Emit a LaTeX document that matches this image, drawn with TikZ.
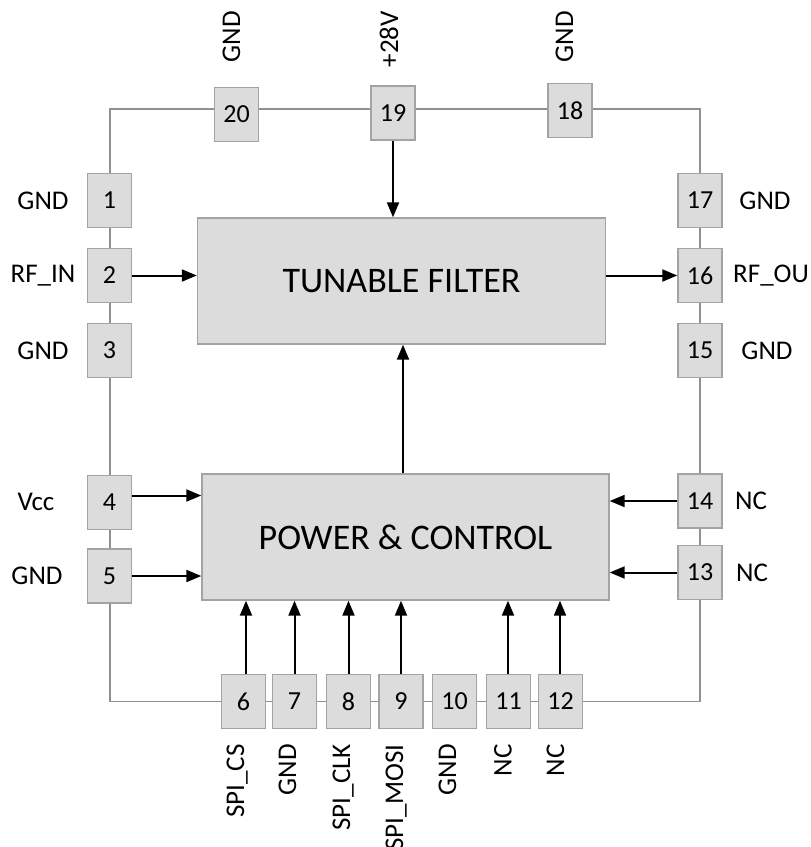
\documentclass[tikz,border=0pt]{standalone}
\usepackage{fontspec}
\setmainfont{Carlito}
\usetikzlibrary{arrows.meta}
\definecolor{boxfill}{HTML}{DCDCDC}
\definecolor{boxline}{HTML}{A3A3A3}
\definecolor{frameline}{HTML}{909090}
\begin{document}
\begin{tikzpicture}[x=1pt,y=-1pt,
  pinbox/.style={draw=boxline, line width=1.4pt, fill=boxfill, minimum width=44pt, minimum height=54pt, inner sep=0pt, font=\fontsize{26}{30}\selectfont},
  block/.style={draw=boxline, line width=1.4pt, fill=boxfill, inner sep=0pt, font=\fontsize{36}{42}\selectfont},
  lbl/.style={inner sep=0pt, font=\fontsize{27}{31}\selectfont},
  vlbl/.style={lbl, rotate=90, anchor=east, text height=0.64em, text depth=0pt},
  sig/.style={-{Triangle[length=15pt,width=12pt]}, line width=2pt, black},
  chipframe/.style={draw=frameline, line width=1.5pt}]
\useasboundingbox (0,0) rectangle (811,847);
% chip outline
\coordinate (ctl) at (110,109);
\coordinate (cbr) at (700,701.5);
\draw[chipframe] (ctl) rectangle (cbr);
% blocks
\node[block, minimum width=408pt, minimum height=126pt] (tf) at (401.5,281) {TUNABLE FILTER};
\node[block, minimum width=407pt, minimum height=126pt] (pc) at (405.5,537) {POWER \& CONTROL};
% left pins
\node[pinbox] (p1) at (109.5,200.5) {1};
\node[pinbox] (p2) at (109.5,275.5) {2};
\node[pinbox] (p3) at (109.5,350.5) {3};
\node[pinbox] (p4) at (109.5,502.5) {4};
\node[pinbox] (p5) at (109.5,576) {5};
% right pins
\node[pinbox] (p17) at (700,200.5) {17};
\node[pinbox] (p16) at (700,275.5) {16};
\node[pinbox] (p15) at (700,350.5) {15};
\node[pinbox] (p14) at (700,501) {14};
\node[pinbox] (p13) at (700,572.5) {13};
% top pins
\node[pinbox] (p20) at (236.5,114.5) {20};
\node[pinbox] (p19) at (393,113) {19};
\node[pinbox] (p18) at (570,110.5) {18};
% bottom pins
\node[pinbox] (p6) at (243.5,701.5) {6};
\node[pinbox] (p7) at (294.5,701.5) {7};
\node[pinbox] (p8) at (348.5,701.5) {8};
\node[pinbox] (p9) at (401,701.5) {9};
\node[pinbox] (p10) at (454.5,701.5) {10};
\node[pinbox] (p11) at (508.5,701.5) {11};
\node[pinbox] (p12) at (560.5,701.5) {12};
% labels left
\node[lbl] (l1) at (43,200.5) {GND};
\node[lbl] (l2) at (43,275.5) {RF\_IN};
\node[lbl] (l3) at (43,350.5) {GND};
\node[lbl] (l4) at (36,502) {Vcc};
\node[lbl] (l5) at (37,576) {GND};
% labels right
\node[lbl] (l17) at (765,200.5) {GND};
\node[lbl, anchor=west] (l16) at (733,275.5) {RF\_OU};
\node[lbl] (l15) at (767,350.5) {GND};
\node[lbl] (l14) at (751,501) {NC};
\node[lbl] (l13) at (752,572.5) {NC};
% labels top
\node[vlbl] (l20) at (237,11) {GND};
\node[vlbl] (l19) at (395,11) {+28V};
\node[vlbl] (l18) at (570,11) {GND};
% labels bottom
\node[vlbl] (l6) at (241,744) {SPI\_CS};
\node[vlbl] (l7) at (293,744) {GND};
\node[vlbl] (l8) at (347,744) {SPI\_CLK};
\node[vlbl] (l9) at (400,744) {SPI\_MOSI};
\node[vlbl] (l10) at (453,744) {GND};
\node[vlbl] (l11) at (508.5,744) {NC};
\node[vlbl] (l12) at (561,744) {NC};
% signal arrows
\draw[sig] (p19.south) -- (p19.south |- tf.north);
\draw[sig] ([xshift=-2.5pt]pc.north) -- ([xshift=-2.5pt]pc.north |- tf.south);
\draw[sig] (p2.east) -- (p2.east -| tf.west);
\draw[sig] (tf.east |- p16.west) -- (p16.west);
\draw[sig] ([yshift=7pt]p4.east) -- ([yshift=7pt]p4.east -| pc.west);
\draw[sig] (p5.east) -- (p5.east -| pc.west);
\draw[sig] (p14.west) -- (p14.west -| pc.east);
\draw[sig] (p13.west) -- (p13.west -| pc.east);
\foreach \p/\dx in {6/2.5,7/0,8/0,9/0,11/-0.5,12/-0.5}
  \draw[sig] ([xshift=\dx pt]p\p.north) -- ([xshift=\dx pt]p\p.north |- pc.south);
\end{tikzpicture}
\end{document}
